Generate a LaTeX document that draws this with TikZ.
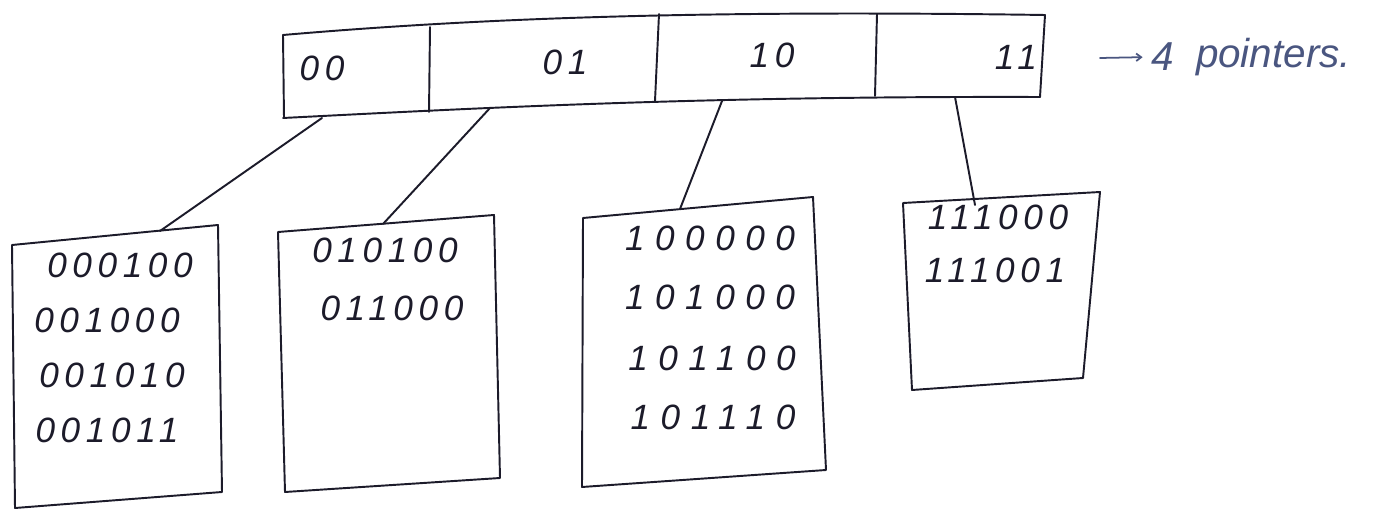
\documentclass[tikz,border=0pt]{standalone}
\usepackage{fontspec}
\setmainfont{Liberation Sans}
\usetikzlibrary{arrows.meta, positioning}
\definecolor{ink}{HTML}{1C1B2A}
\definecolor{pencil}{HTML}{4A5680}

\begin{document}
\begin{tikzpicture}[x=0.2mm, y=-0.2mm, line join=round, line cap=round,
  sketch/.style={ink, line width=1.1pt},
  bits/.style={text=ink, inner sep=0pt, font=\fontsize{20}{22}\selectfont\itshape\addfontfeature{LetterSpace=16}},
  widebits/.style={bits, font=\fontsize{20}{22}\selectfont\itshape\addfontfeature{LetterSpace=30}},
  note/.style={text=pencil, inner sep=0pt, font=\fontsize{23}{25}\selectfont\itshape}]

% Background
\fill[white] (0,0) rectangle (1380,512);
\useasboundingbox (0,0) rectangle (1380,512);

% Directory
\draw[sketch] (283,35) .. controls (480,18) and (700,10) .. (1045,15);
\draw[sketch] (283,118) .. controls (480,108) and (700,96) .. (1040,97);
\draw[sketch] (283,35) -- (284,118);
\draw[sketch] (1045,15) -- (1040,97);
\draw[sketch] (430,27) -- (429,112);
\draw[sketch] (659,14) -- (655,101);
\draw[sketch] (877,14) -- (875,96);

\node[bits] (d00) at (322,68) {00};
\node[bits] (d01) at (565,62) {01};
\node[bits] (d10) at (772,55) {10};
\node[bits] (d11) at (1016,57) {11};

% Note on the right
\coordinate (arr) at (1100,58);
\node[note] (four) at (1163,57) {4};
\node[note, right=12pt of four] (ptrs) {pointers.};
\draw[pencil, line width=1pt, shorten >=5pt, -{Straight Barb[length=1mm, width=1.5mm]}] (arr) -- (four.west);

% Bucket 00
\draw[sketch] (12,245) -- (218,225) -- (222,492) -- (15,508) -- cycle;
\node[bits] (b00a) at (120,265) {000100};
\node[bits] (b00b) at (107,320) {001000};
\node[bits] (b00c) at (112,375) {001010};
\node[bits] (b00d) at (107,430) {001011};

% Bucket 01
\draw[sketch] (278,232) -- (494,215) -- (500,478) -- (285,492) -- cycle;
\node[bits] (b01a) at (385,250) {010100};
\node[bits] (b01b) at (392,308) {011000};

% Bucket 10
\draw[sketch] (583,218) -- (813,197) -- (826,470) -- (582,487) -- cycle;
\node[widebits] (b10a) at (710,238) {100000};
\node[widebits] (b10b) at (710,297) {101000};
\node[widebits] (b10c) at (712,358) {101100};
\node[widebits] (b10d) at (713,417) {101110};

% Bucket 11
\draw[sketch] (903,203) -- (1100,192) -- (1083,378) -- (912,390) -- cycle;
\node[bits] (b11a) at (998,217) {111000};
\node[bits] (b11b) at (995,270) {111001};

% Pointers from directory to buckets
\coordinate (p00) at (322,118);
\coordinate (p01) at (490,108);
\coordinate (p10) at (722,101);
\coordinate (p11) at (955,97);
\coordinate (t00) at (160,231);
\coordinate (t01) at (383,224);
\coordinate (t10) at (680,209);
\coordinate (t11) at (975,205);
\draw[sketch] (p00) -- (t00);
\draw[sketch] (p01) -- (t01);
\draw[sketch] (p10) -- (t10);
\draw[sketch] (p11) -- (t11);

\end{tikzpicture}
\end{document}
